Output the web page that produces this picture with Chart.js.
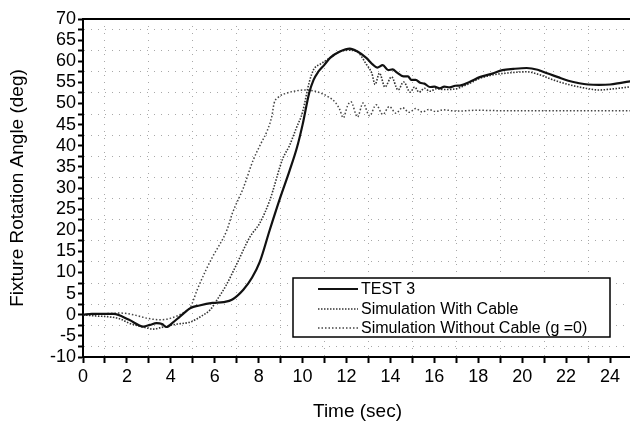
<!DOCTYPE html>
<html>
<head>
<meta charset="utf-8">
<script src="https://cdn.jsdelivr.net/npm/chart.js@4.4.1/dist/chart.umd.min.js"></script>
<style>
html,body{margin:0;padding:0;background:#fff;overflow:hidden;}
#wrap{width:640px;height:423px;}
</style>
</head>
<body>
<div id="wrap"><canvas id="c" width="640" height="423"></canvas></div>
<script>
const seriesNames = ["TEST 3", "Simulation With Cable", "Simulation Without Cable (g =0)"];

const testT = [0,0.4,1.4,2.1,2.75,3.05,3.35,3.6,3.8,4.1,4.4,4.9,5.3,5.9,6.4,6.8,7.3,7.7,8.05,8.5,9.0,9.4,9.75,10.0,10.3,10.5,10.7,11.0,11.25,11.7,12.15,12.5,12.9,13.2,13.4,13.65,13.9,14.1,14.3,14.6,14.8,14.95,15.15,15.35,15.55,15.8,16.0,16.25,16.45,16.7,16.95,17.2,17.6,18.1,18.6,19.1,19.6,20.2,20.7,21.1,21.6,22.1,22.6,23.0,23.5,24.0,24.5,25.0];
const testV = [0,0.2,0.2,-1.2,-2.8,-2.4,-2.0,-2.2,-2.9,-1.8,-0.5,1.6,2.2,2.8,3.0,3.6,5.9,8.8,12.5,20,28,34,39.7,45,52.5,55.6,57.4,59.2,60.8,62.3,63.0,62.3,60.8,59.2,58.5,59.1,57.9,58.1,57.3,56.4,56.4,55.6,55.6,54.9,54.7,53.9,54.0,53.6,54.0,53.8,54.2,54.3,55.1,56.3,57.0,57.9,58.2,58.4,58.0,57.2,56.3,55.4,54.8,54.5,54.4,54.5,54.9,55.3];

const cableT = [0,0.6,1.2,1.7,2.1,2.5,2.9,3.2,3.5,3.8,4.3,4.9,5.4,5.8,6.1,6.5,7.0,7.6,8.05,8.5,9.1,9.4,9.7,10.0,10.3,10.5,10.8,11.1,11.7,12.1,12.5,12.9,13.15,13.3,13.5,13.75,14.05,14.35,14.6,14.9,15.1,15.3,15.55,15.8,16.1,16.5,17.0,17.5,18.1,18.7,19.3,20.2,20.8,21.4,22.1,22.8,23.5,24.2,25.0];
const cableV = [0,-0.3,-0.5,-1.0,-2.0,-2.6,-3.1,-3.4,-3.1,-2.7,-2.2,-1.7,-0.3,1.2,3.5,6.8,12,18.4,21.7,27,37,40,44,48,55,58,59.3,60.3,62.3,62.6,62.2,59.3,57.2,54.5,57.2,53.9,56.3,53.2,55.1,52.7,53.9,52.7,53.6,52.9,53.5,53.3,53.5,54.5,56,56.8,57.2,57.5,56.8,55.6,54.5,53.7,53.2,53.5,54.0];

const noCableT = [0,0.6,1.2,1.7,2.3,2.9,3.5,4.0,4.55,4.9,5.2,5.6,5.9,6.55,6.8,7.3,7.75,8.1,8.4,8.6,8.7,8.9,9.3,9.7,10.1,10.5,10.9,11.2,11.5,11.7,11.85,12.05,12.2,12.5,12.75,13.05,13.35,13.65,13.95,14.25,14.55,14.85,15.15,15.45,15.75,16.05,16.4,17,18,19,20,21,22,23,24,25];
const noCableV = [0,0.1,0.3,0.4,0,-0.8,-1.2,-0.8,0.4,1.9,5.9,10.6,13.7,20,24,30,36.6,40.5,43.7,47,50,51.5,52.5,53,53.2,53,52.3,51.5,50.2,48.5,46.6,49.5,50.4,46.8,50.1,47.1,49.7,47.4,49.3,47.7,49.0,47.9,48.8,48.0,48.6,48.1,48.5,48.2,48.4,48.3,48.3,48.3,48.3,48.3,48.3,48.3];

const xMin = 0, xMax = 25, xStep = 1, xLabelEvery = 2;
const yMin = -10, yMax = 70, yStep = 2.5, yLabelEvery = 5;
const xTitle = "Time (sec)";
const yTitle = "Fixture Rotation Angle (deg)";

const FONT = "'Liberation Sans', Arial, Helvetica, sans-serif";

function pts(t, v){ return t.map((x,i)=>({x:x, y:v[i]})); }

const legendPlugin = {
  id: 'boxLegend',
  afterDraw(chart){
    const ctx = chart.ctx;
    const bx = 293, by = 278, bw = 317, bh = 59;
    ctx.save();
    ctx.fillStyle = '#fff';
    ctx.fillRect(bx, by, bw, bh);
    ctx.strokeStyle = '#000';
    ctx.lineWidth = 1.5;
    ctx.strokeRect(bx, by, bw, bh);
    const rows = [289, 309, 328];
    chart.data.datasets.forEach((ds, i) => {
      const y = rows[i];
      ctx.beginPath();
      ctx.strokeStyle = ds.borderColor;
      ctx.lineWidth = ds.borderWidth;
      ctx.setLineDash(ds.borderDash || []);
      ctx.moveTo(318, y);
      ctx.lineTo(358, y);
      ctx.stroke();
      ctx.setLineDash([]);
      ctx.fillStyle = '#000';
      ctx.font = '16px ' + FONT;
      ctx.textBaseline = 'middle';
      ctx.textAlign = 'left';
      ctx.fillText(ds.label, 361, y + 1);
    });
    ctx.restore();
  }
};

const framePlugin = {
  id: 'frame',
  afterDatasetsDraw(chart){
    const a = chart.chartArea, ctx = chart.ctx;
    ctx.save();
    ctx.strokeStyle = '#000';
    ctx.lineWidth = 2;
    ctx.beginPath();
    ctx.moveTo(a.left, a.top);
    ctx.lineTo(a.right + 10, a.top);
    ctx.stroke();
    ctx.restore();
  }
};

const gridCol = '#a8a8a8';

new Chart(document.getElementById('c'), {
  type: 'line',
  data: {
    datasets: [
      { label: seriesNames[0], data: pts(testT, testV), borderColor: '#111', borderWidth: 2.2, pointRadius: 0, cubicInterpolationMode: 'monotone', fill: false },
      { label: seriesNames[1], data: pts(cableT, cableV), borderColor: '#333', borderWidth: 1.6, borderDash: [1.5, 1.5], pointRadius: 0, cubicInterpolationMode: 'monotone', fill: false },
      { label: seriesNames[2], data: pts(noCableT, noCableV), borderColor: '#444', borderWidth: 1.5, borderDash: [1.5, 2], pointRadius: 0, cubicInterpolationMode: 'monotone', fill: false }
    ]
  },
  options: {
    responsive: false,
    devicePixelRatio: 1,
    animation: false,
    layout: { padding: { top: 19, right: 8, left: 0, bottom: 0 } },
    plugins: { legend: { display: false }, tooltip: { enabled: false } },
    scales: {
      x: {
        type: 'linear', min: xMin, max: xMax,
        afterFit(s){ s.height = 66; },
        ticks: {
          stepSize: xStep, autoSkip: false, maxRotation: 0, padding: 3, color: '#000',
          font: { family: FONT, size: 18 },
          callback: v => (Math.abs(v % xLabelEvery) < 1e-9 ? String(v) : '')
        },
        grid: {
          drawOnChartArea: true,
          color: c => (c.tick && Math.abs(c.tick.value % xLabelEvery) > 1e-9 ? gridCol : 'rgba(0,0,0,0)'),
          lineWidth: 1, tickLength: 6, tickColor: '#000', tickWidth: 2
        },
        border: { display: true, color: '#000', width: 2, dash: [1, 6] },
        title: { display: true, text: xTitle, color: '#000', font: { family: FONT, size: 19 }, padding: { top: 0, bottom: 0 } }
      },
      y: {
        type: 'linear', min: yMin, max: yMax,
        afterFit(s){ s.width = 83; },
        ticks: {
          stepSize: yStep, autoSkip: false, padding: 2, color: '#000',
          font: { family: FONT, size: 18 },
          callback: v => (Math.abs(v % yLabelEvery) < 1e-9 ? String(v) : '')
        },
        grid: {
          drawOnChartArea: true,
          color: c => (c.tick && Math.abs(c.tick.value % yLabelEvery) > 1e-9 ? gridCol : 'rgba(0,0,0,0)'),
          lineWidth: 1, tickLength: 5, tickColor: '#000', tickWidth: 2
        },
        border: { display: true, color: '#000', width: 2, dash: [1, 6] },
        title: { display: true, text: yTitle, color: '#000', font: { family: FONT, size: 19 }, padding: { top: 6, bottom: 0 } }
      }
    }
  },
  plugins: [framePlugin, legendPlugin]
});
</script>
</body>
</html>
